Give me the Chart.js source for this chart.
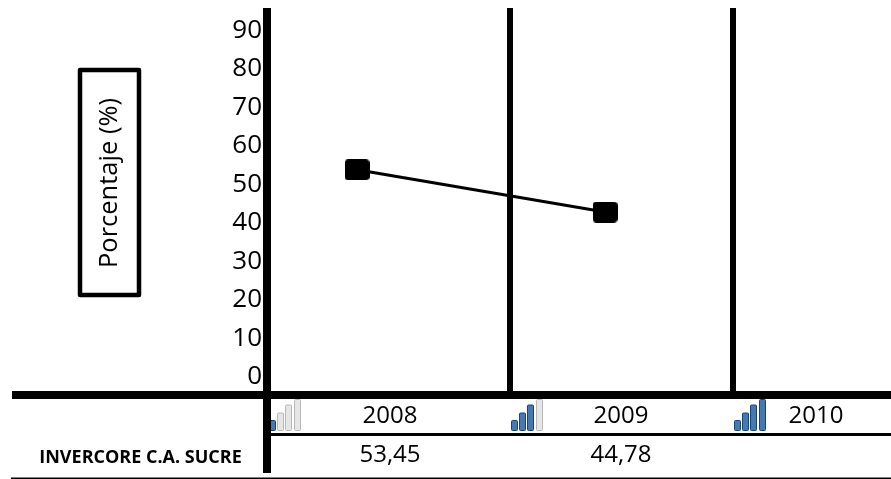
<!DOCTYPE html>
<html>
<head>
<meta charset="utf-8">
<style>html,body{margin:0;padding:0;background:#fff}canvas{display:block}</style>
<script src="https://cdn.jsdelivr.net/npm/chart.js@4"></script>
</head>
<body>
<div style="width:891px;height:479px;position:relative"><canvas id="c" width="891" height="479"></canvas></div>
<script>
const years = [2008, 2009];
const plotted = [53.8, 42.85];
const yTicks = [0, 10, 20, 30, 40, 50, 60, 70, 80, 90];
const tableYears = ['2008', '2009', '2010'];
const tableValues = ['53,45', '44,78', ''];
const seriesName = 'INVERCORE C.A. SUCRE';
const axisTitle = 'Porcentaje (%)';
const columnEdges = [2007.637, 2008.615, 2009.514];
const iconLevels = [1, 3, 4];
const FONT = '"Open Sans"';

const marker = document.createElement('canvas');
marker.width = 25; marker.height = 21;
{
  const m = marker.getContext('2d');
  m.fillStyle = '#000';
  m.beginPath(); m.roundRect(0, 0, 25, 21, 4); m.fill();
}

function drawIcon(ctx, left, level) {
  const tops = [420.5, 413, 405, 399.5];
  tops.forEach((top, i) => {
    const on = i < level;
    ctx.beginPath();
    ctx.roundRect(Math.round(left + i * 8.2) + 0.5, top, 6, 430.5 - top, 1);
    ctx.fillStyle = on ? '#4479b2' : '#e6e6e6';
    ctx.fill();
    ctx.lineWidth = 1;
    ctx.strokeStyle = on ? '#1a4474' : '#b8b8b8';
    ctx.stroke();
  });
}

const tablePlugin = {
  id: 'table',
  afterDraw(chart) {
    const ctx = chart.ctx;
    ctx.save();
    ctx.fillStyle = '#000';
    ctx.fillRect(12, 391, 255, 8);
    ctx.fillRect(267, 433, 624, 3);
    ctx.fillRect(11, 477.5, 880, 1.5);
    [269, 511, 734].forEach((x, i) => drawIcon(ctx, x, iconLevels[i]));
    ctx.fillStyle = '#000';
    ctx.fillRect(263, 395, 8, 78);

    ctx.textAlign = 'center';
    ctx.textBaseline = 'middle';
    ctx.font = '24px ' + FONT;
    [390, 621, 816].forEach((x, i) => {
      ctx.fillText(tableYears[i], x, 416.5);
      if (tableValues[i]) ctx.fillText(tableValues[i], x, 455);
    });
    ctx.font = 'bold 18px ' + FONT;
    ctx.fillText(seriesName, 140.5, 458);

    ctx.lineWidth = 4.5;
    ctx.strokeStyle = '#000';
    ctx.lineJoin = 'round';
    ctx.strokeRect(80, 70, 59, 225);
    ctx.translate(110, 183);
    ctx.rotate(-Math.PI / 2);
    ctx.font = '25.5px ' + FONT;
    ctx.fillText(axisTitle, 0, 0);
    ctx.restore();
  }
};

new Chart(document.getElementById('c'), {
  type: 'line',
  data: {
    datasets: [{
      data: years.map((y, i) => ({ x: y, y: plotted[i] })),
      borderColor: '#000',
      borderWidth: 3,
      pointStyle: marker,
      pointRadius: 12,
      tension: 0
    }]
  },
  options: {
    responsive: false,
    animation: false,
    devicePixelRatio: 1,
    layout: { autoPadding: false, padding: { top: 8, bottom: 84, left: 0, right: 0 } },
    plugins: { legend: { display: false }, tooltip: { enabled: false } },
    scales: {
      x: {
        type: 'linear',
        min: 2007.637,
        max: 2010.153,
        afterBuildTicks(s) { s.ticks = columnEdges.map(v => ({ value: v })); },
        afterFit(s) { s.height = 0; s.paddingLeft = 0; s.paddingRight = 0; },
        ticks: { display: false },
        grid: {
          color: '#000',
          lineWidth: c => (c.tick && c.tick.value === columnEdges[0] ? 8 : 6),
          drawTicks: false
        },
        border: { color: '#000', width: 8 }
      },
      y: {
        min: -4.68,
        max: 95.84,
        afterBuildTicks(s) { s.ticks = yTicks.map(v => ({ value: v })); },
        afterFit(s) { s.width = 267; s.paddingTop = 0; s.paddingBottom = 0; },
        ticks: { color: '#000', padding: 5, font: { family: FONT, size: 26 } },
        grid: { display: false, drawTicks: false },
        border: { display: false }
      }
    }
  },
  plugins: [tablePlugin]
});
</script>
</body>
</html>
